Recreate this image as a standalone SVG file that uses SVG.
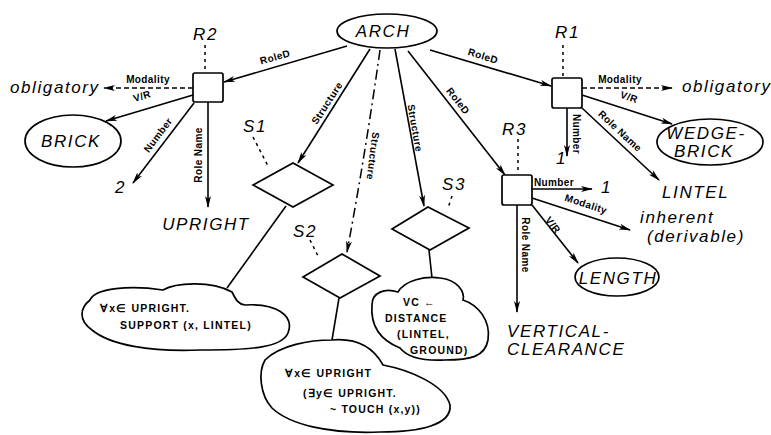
<svg xmlns="http://www.w3.org/2000/svg" width="771" height="435" viewBox="0 0 771 435">
<defs>
<marker id="ah" viewBox="0 0 12 7" refX="11" refY="3.5" markerWidth="12" markerHeight="7" orient="auto" markerUnits="userSpaceOnUse"><path d="M0,0.5 L12,3.5 L0,6.5 L3,3.5 z" fill="#000"/></marker>
</defs>
<style>
.ln{fill:none;stroke:#000;stroke-width:1.6}
.lead{fill:none;stroke:#000;stroke-width:1.5;stroke-dasharray:3 4}
.dash{fill:none;stroke:#000;stroke-width:1.5;stroke-dasharray:5 3}
.dd{fill:none;stroke:#000;stroke-width:1.5;stroke-dasharray:10 4 2 4}
.shape{fill:#fff;stroke:#000;stroke-width:1.7}
text{font-family:"Liberation Sans",Arial,sans-serif;fill:#000}
.it{font-style:italic;font-size:17px;letter-spacing:1.6px}
.el{font-size:10px;font-weight:bold;letter-spacing:0.4px;dominant-baseline:central;text-anchor:middle}
.cl{font-size:10.5px;font-weight:bold;letter-spacing:1.2px}
.mid{text-anchor:middle}
</style>
<rect width="771" height="435" fill="#fff"/>
<g id="connectors">
<path class="ln" d="M347,46 L224,82" marker-end="url(#ah)"/>
<path class="ln" d="M430,50 L551,86" marker-end="url(#ah)"/>
<path class="ln" d="M370,49 L298,163" marker-end="url(#ah)"/>
<path class="dd" d="M380,50 Q366,150 347,252" marker-end="url(#ah)"/>
<path class="ln" d="M395,49 Q410,130 424,206" marker-end="url(#ah)"/>
<path class="ln" d="M408,51 L505,175" marker-end="url(#ah)"/>
<path class="dash" d="M193,88 L104,88" marker-end="url(#ah)"/>
<path class="ln" d="M193,95 L106,121" marker-end="url(#ah)"/>
<path class="ln" d="M194,103 L133,183" marker-end="url(#ah)"/>
<path class="ln" d="M208,102 L208,207" marker-end="url(#ah)"/>
<path class="dash" d="M582,88 L672,88" marker-end="url(#ah)"/>
<path class="ln" d="M582,95 L672,124" marker-end="url(#ah)"/>
<path class="ln" d="M567,108 L567,156" marker-end="url(#ah)"/>
<path class="ln" d="M582,108 L659,180" marker-end="url(#ah)"/>
<path class="ln" d="M532,189 L592,189" marker-end="url(#ah)"/>
<path class="ln" d="M532,198 L630,230" marker-end="url(#ah)"/>
<path class="ln" d="M532,205 L578,263" marker-end="url(#ah)"/>
<path class="ln" d="M517,205 L517,312" marker-end="url(#ah)"/>
<path class="ln" d="M286,206 L227,288"/>
<path class="ln" d="M339,298 L332,340"/>
<path class="ln" d="M429,250 L432,278"/>
<path class="lead" d="M205,45 L205,72"/>
<path class="lead" d="M563,45 L563,77"/>
<path class="lead" d="M518,139 L518,174"/>
<path class="lead" d="M253,137 L268,166"/>
<path class="lead" d="M310,240 L319,258"/>
<path class="lead" d="M452,196 L448,208"/>
<text class="el" transform="translate(275,57) rotate(-16)">RoleD</text>
<text class="el" transform="translate(483,56) rotate(17)">RoleD</text>
<text class="el" transform="translate(327,103) rotate(-57)">Structure</text>
<text class="el" transform="translate(373,156) rotate(97)">Structure</text>
<text class="el" transform="translate(415,128) rotate(80)">Structure</text>
<text class="el" transform="translate(458,101) rotate(52)">RoleD</text>
<text class="el" transform="translate(148,79)">Modality</text>
<text class="el" transform="translate(142,96) rotate(-17)">V/R</text>
<text class="el" transform="translate(158,135) rotate(-53)">Number</text>
<text class="el" transform="translate(198,155) rotate(-90)">Role Name</text>
<text class="el" transform="translate(620,79)">Modality</text>
<text class="el" transform="translate(629,97) rotate(18)">V/R</text>
<text class="el" transform="translate(576,134) rotate(90)">Number</text>
<text class="el" transform="translate(620,131) rotate(43)">Role Name</text>
<text class="el" transform="translate(554,182)">Number</text>
<text class="el" transform="translate(586,204) rotate(18)">Modality</text>
<text class="el" transform="translate(553,225) rotate(52)">V/R</text>
<text class="el" transform="translate(525,245) rotate(90)">Role Name</text>
</g>
<g id="ARCH"><ellipse class="shape" cx="387" cy="31" rx="50" ry="17"/><text class="it mid" x="383" y="37">ARCH</text></g>
<g id="R2"><rect class="shape" x="193" y="73" width="30" height="29" rx="2"/><text class="it" x="193" y="40">R2</text></g>
<g id="R1"><rect class="shape" x="552" y="78" width="30" height="30" rx="2"/><text class="it" x="555" y="38">R1</text></g>
<g id="R3"><rect class="shape" x="502" y="175" width="30" height="30" rx="2"/><text class="it" x="502" y="135">R3</text></g>
<g id="S1"><polygon class="shape" points="293,163 333,185 293,207 253,185"/><text class="it" x="243" y="132">S1</text></g>
<g id="S2"><polygon class="shape" points="342,254 380,276 340,298 303,277"/><text class="it" x="293" y="237">S2</text></g>
<g id="S3"><polygon class="shape" points="428,207 469,228 430,250 392,229"/><text class="it" x="442" y="190">S3</text></g>
<g id="obligatory-left"><text class="it" x="10" y="93">obligatory</text></g>
<g id="BRICK"><ellipse class="shape" cx="73" cy="141" rx="48" ry="26"/><text class="it mid" x="71" y="147">BRICK</text></g>
<g id="two"><text class="it" x="115" y="193">2</text></g>
<g id="UPRIGHT"><text class="it mid" x="206" y="230">UPRIGHT</text></g>
<g id="obligatory-right"><text class="it" x="682" y="92">obligatory</text></g>
<g id="WEDGE-BRICK"><ellipse class="shape" cx="710" cy="142" rx="53" ry="23"/><text class="it mid" x="706" y="139" font-size="14">WEDGE-</text><text class="it mid" x="704" y="157" font-size="14">BRICK</text></g>
<g id="one-R1"><text class="it" x="556" y="164">1</text></g>
<g id="LINTEL"><text class="it" x="662" y="198">LINTEL</text></g>
<g id="one-R3"><text class="it" x="601" y="193">1</text></g>
<g id="inherent"><text class="it" x="640" y="223" font-size="16">inherent</text><text class="it" x="647" y="242" font-size="16">(derivable)</text></g>
<g id="LENGTH"><ellipse class="shape" cx="617" cy="277" rx="42" ry="19"/><text class="it mid" x="618" y="284">LENGTH</text></g>
<g id="VERTICAL-CLEARANCE"><text class="it" x="507" y="337">VERTICAL-</text><text class="it" x="507" y="355">CLEARANCE</text></g>
<g id="cloud1"><path class="shape" d="M90,300 C95,288 130,285 163,290 C175,283 210,280 232,292 C236,300 238,304 245,305 C275,303 295,315 288,333 C282,348 250,350 200,350 C150,352 110,345 92,330 C78,320 80,308 90,300 Z"/><text class="cl" x="100" y="312">∀x∈ UPRIGHT.</text><text class="cl" x="120" y="329">SUPPORT (x, LINTEL)</text></g>
<g id="cloud2"><path class="shape" d="M265,360 C280,345 310,340 332,340 C355,338 372,345 383,365 C410,370 445,385 450,405 C452,425 420,432 380,432 C330,434 290,425 272,408 C260,395 258,372 265,360 Z"/><text class="cl" x="285" y="377">∀x∈ UPRIGHT</text><text class="cl" x="303" y="397">(∃y∈ UPRIGHT.</text><text class="cl" x="330" y="413">~ TOUCH (x,y))</text></g>
<g id="cloud3"><path class="shape" d="M372,305 C372,292 385,288 398,292 C405,280 425,276 440,278 C458,280 465,292 463,300 C478,305 491,320 488,340 C485,357 470,360 445,360 C425,361 408,358 400,348 C385,342 370,330 372,305 Z"/><text class="cl" x="403" y="306">VC ←</text><text class="cl" x="385" y="322">DISTANCE</text><text class="cl" x="397" y="338">(LINTEL,</text><text class="cl" x="410" y="354">GROUND)</text></g>
</svg>
